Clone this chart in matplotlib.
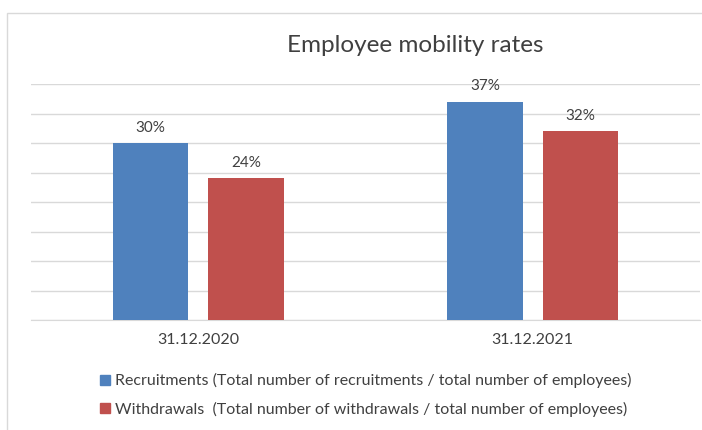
import matplotlib
matplotlib.use("Agg")
import matplotlib.pyplot as plt
from matplotlib.patches import Rectangle, Patch
import numpy as np

categories = ["31.12.2020", "31.12.2021"]
recruitments = [30, 37]
withdrawals = [24, 32]
series_labels = [
    "Recruitments (Total number of recruitments / total number of employees)",
    "Withdrawals  (Total number of withdrawals / total number of employees)",
]
colors = ["#4F81BD", "#C0504D"]

plt.rcParams["font.family"] = ["Lato", "DejaVu Sans"]
text_color = "#404040"

fig = plt.figure(figsize=(7.02, 4.30), dpi=100)
W, H = 702, 430

def fx(px):
    return px / W

def fy(py):
    return 1 - py / H

# outer chart border
fig.patches.append(Rectangle((fx(7), fy(440)), fx(710) - fx(7), fy(13) - fy(440),
                             transform=fig.transFigure, fill=False,
                             edgecolor="#D9D9D9", linewidth=1.0))

ax = fig.add_axes([fx(31), fy(320), fx(700) - fx(31), fy(84) - fy(320)])
x = np.arange(len(categories))
width = 0.225
offset = 0.1425

bars = [
    ax.bar(x - offset, recruitments, width, color=colors[0], zorder=3),
    ax.bar(x + offset, withdrawals, width, color=colors[1], zorder=3),
]
for bc, vals in zip(bars, [recruitments, withdrawals]):
    for rect, v in zip(bc, vals):
        ax.annotate(f"{v}%", (rect.get_x() + rect.get_width() / 2, v),
                    xytext=(0, 6), textcoords="offset points",
                    ha="center", va="bottom", fontsize=11, color=text_color)

ax.set_xlim(-0.5, 1.5)
ax.set_ylim(0, 40)
ax.set_yticks(np.arange(0, 41, 5))
ax.yaxis.grid(True, color="#D9D9D9", linewidth=1.0, zorder=0)
ax.tick_params(axis="y", left=False, labelleft=False)
ax.set_xticks(x)
ax.set_xticklabels(categories, fontsize=11.5, color=text_color)
ax.tick_params(axis="x", length=0, pad=9)
for s in ["left", "right", "top"]:
    ax.spines[s].set_visible(False)
ax.spines["bottom"].set_color("#D9D9D9")

fig.text(fx(415), fy(45), "Employee mobility rates", ha="center", va="center",
         fontsize=17.5, color=text_color)

handles = [Patch(color=c) for c in colors]
fig.legend(handles, series_labels, loc="upper left",
           bbox_to_anchor=(fx(86), fy(359)), frameon=False,
           handlelength=0.6, handleheight=0.6, handletextpad=0.3,
           labelspacing=0.82, fontsize=11.5, labelcolor=text_color)

fig.savefig("out.png", dpi=100)
